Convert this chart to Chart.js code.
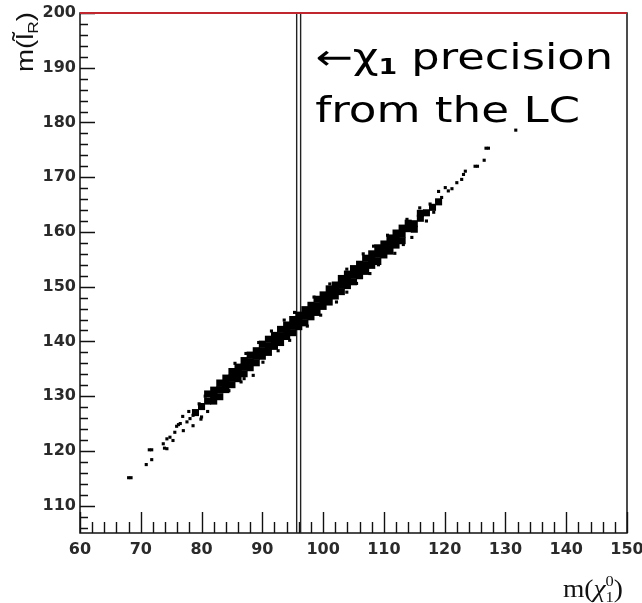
<!DOCTYPE html>
<html>
<head>
<meta charset="utf-8">
<script src="https://cdn.jsdelivr.net/npm/chart.js@4.4.1/dist/chart.umd.min.js"></script>
<style>
  html, body { margin: 0; padding: 0; background: #fff; }
  #wrap { width: 642px; height: 603px; }
</style>
</head>
<body>
<div id="wrap"><canvas id="mass_chart"></canvas></div>
<script>
// axis ranges and labelled ticks
const xRange = [60, 150];
const yRange = [105, 200];
const xTickLabels = [60, 70, 80, 90, 100, 110, 120, 130, 140, 150];
const yTickLabels = [110, 120, 130, 140, 150, 160, 170, 180, 190, 200];

// neutralino mass window from the LC (two edges) and the upper slepton limit
const lcWindow = [95.65, 96.3];
const sleptonLimit = 200;

// dense centre of the correlation band: [m(chi), m(slepton)]
const bandMid = [
  [79, 127.0], [80, 128.1], [81, 129.1], [82, 130.2], [83, 131.2], [84, 132.3], [85, 133.3],
  [86, 134.3], [87, 135.3], [88, 136.3], [89, 137.3], [90, 138.3], [91, 139.2], [92, 140.1],
  [93, 141.0], [94, 141.9], [95, 142.8], [96, 143.7], [97, 144.6], [98, 145.6], [99, 146.5],
  [100, 147.4], [101, 148.4], [102, 149.3], [103, 150.3], [104, 151.2], [105, 152.1], [106, 153.1],
  [107, 154.0], [108, 154.9], [109, 155.9], [110, 156.8], [111, 157.7], [112, 158.7], [113, 159.6],
  [114, 160.6], [115, 161.5], [116, 162.5], [117, 163.5], [118, 164.5], [119, 165.5]
];
const bandUpper = [
  [81, 130.4], [82, 131.1], [83, 132.4], [84, 133.3], [85, 134.5], [86, 135.3], [87, 136.5],
  [88, 137.5], [89, 138.3], [90, 139.5], [91, 140.4], [92, 141.1], [93, 142.2], [94, 143.0],
  [95, 144.0], [96, 144.8], [97, 145.8], [98, 146.6], [99, 147.7], [100, 148.5], [101, 149.6],
  [102, 150.3], [103, 151.5], [104, 152.3], [105, 153.3], [106, 154.1], [107, 155.2], [108, 156.0],
  [109, 157.1], [110, 157.8], [111, 158.9], [112, 159.8], [113, 160.7], [114, 161.6], [116, 163.4]
];
const bandLower = [
  [82, 129.1], [83, 129.9], [84, 131.2], [85, 132.1], [86, 133.2], [87, 134.1], [88, 135.2],
  [89, 136.1], [90, 137.3], [91, 138.0], [92, 139.1], [93, 139.8], [94, 140.9], [95, 141.6],
  [96, 142.7], [97, 143.4], [98, 144.5], [99, 145.3], [100, 146.4], [101, 147.2], [102, 148.3],
  [103, 149.1], [104, 150.2], [105, 150.9], [106, 152.0], [107, 152.8], [108, 153.9], [109, 154.6],
  [110, 155.8], [111, 156.5], [112, 157.6], [113, 158.4], [115, 160.5]
];

// single scan points: tails and ragged edges of the band
const scanPoints = [
  [68.0, 115.1], [68.4, 115.1], [70.9, 117.5], [71.8, 118.4], [71.4, 120.2], [71.8, 120.2],
  [73.7, 121.3], [73.9, 120.5], [74.3, 120.4], [74.3, 122.2], [74.8, 122.5], [75.3, 121.9],
  [75.6, 123.4], [75.9, 124.5], [76.2, 124.8], [76.5, 125.0], [76.9, 126.3], [77.0, 123.7],
  [77.6, 125.3], [77.9, 127.2], [78.1, 125.9], [78.6, 126.5], [78.6, 124.6], [79.6, 128.6],
  [79.9, 125.8], [80.0, 126.2], [80.6, 130.0], [81.0, 127.2], [81.4, 128.9], [82.2, 131.3],
  [82.4, 130.2], [84.5, 131.0], [85.2, 134.5], [85.5, 136.0], [86.5, 132.6], [87.0, 133.2],
  [87.3, 137.8], [88.5, 133.8], [89.4, 139.8], [90.1, 136.2], [91.5, 141.9], [92.6, 138.3],
  [93.6, 143.9], [94.5, 140.2], [95.3, 145.3], [97.4, 142.8], [98.5, 148.1], [99.6, 144.8],
  [101.1, 150.5], [102.2, 147.2], [103.9, 153.2], [103.9, 149.0], [105.5, 150.6], [106.6, 156.0],
  [107.7, 152.4], [108.3, 157.4], [109.1, 154.0], [110.6, 159.4], [111.8, 156.1], [113.2, 157.7],
  [113.8, 162.3], [114.6, 159.0], [115.9, 164.4], [117.0, 162.0], [117.6, 165.1], [118.2, 163.6],
  [118.7, 165.7], [119.0, 167.4], [119.5, 166.3], [120.1, 168.1], [120.6, 167.5], [121.2, 167.9],
  [122.0, 169.0], [122.8, 169.6], [123.1, 170.5], [123.4, 171.1], [125.0, 172.0], [125.4, 172.0],
  [126.5, 173.1], [126.8, 175.3], [127.2, 175.3], [131.7, 178.6]
];

const toXY = (pts) => pts.map((p) => ({ x: p[0], y: p[1] }));

const tickFont = { family: "DejaVu Sans", size: 16, weight: "bold" };

// ROOT style frame with inward ticks (minor every 2)
const framePlugin = {
  id: "frame",
  beforeDatasetsDraw(chart) {
    const { ctx, chartArea: a, scales } = chart;
    ctx.save();
    ctx.strokeStyle = "#111";
    ctx.lineWidth = 1.5;
    ctx.strokeRect(a.left, a.top, a.right - a.left, a.bottom - a.top);

    ctx.lineWidth = 1.4;
    ctx.beginPath();
    for (let v = xRange[0]; v <= xRange[1]; v += 2) {
      const px = Math.round(scales.x.getPixelForValue(v)) + 0.5;
      const len = v % 10 === 0 ? 21 : 11;
      ctx.moveTo(px, a.bottom);
      ctx.lineTo(px, a.bottom - len);
    }
    for (let v = 106; v <= yRange[1]; v += 2) {
      const py = Math.round(scales.y.getPixelForValue(v)) + 0.5;
      const len = v % 10 === 0 ? 15 : 8;
      ctx.moveTo(a.left, py);
      ctx.lineTo(a.left + len, py);
    }
    ctx.stroke();
    ctx.restore();
  },
};

const drawRuns = (ctx, runs, x, y, targetW) => {
  let w = 0;
  runs.forEach((r) => { ctx.font = r.font; if (!r.stack) w += ctx.measureText(r.text).width; });
  const sx = targetW ? targetW / w : 1;
  ctx.save();
  ctx.translate(x, y);
  ctx.scale(sx, 1);
  let cx = 0;
  runs.forEach((r) => {
    ctx.font = r.font;
    ctx.fillText(r.text, cx, r.dy || 0);
    if (!r.stack) cx += ctx.measureText(r.text).width;
  });
  ctx.restore();
};

const textPlugin = {
  id: "labels",
  afterDraw(chart) {
    const { ctx, chartArea: a, scales } = chart;
    ctx.save();
    ctx.fillStyle = "#000";
    ctx.textBaseline = "alphabetic";

    // note next to the LC window
    const nx = scales.x.getPixelForValue(98.7);
    const big = "35px DejaVu Sans";
    drawRuns(ctx, [
      { text: "\u2190", font: big },
      { text: "\u03c7", font: big },
      { text: "1", font: "bold 21px DejaVu Sans", dy: 5 },
      { text: " precision", font: big },
    ], nx, scales.y.getPixelForValue(189.7), scales.x.getPixelForValue(147.7) - nx);
    drawRuns(ctx, [{ text: "from the LC", font: big }],
      nx, scales.y.getPixelForValue(180.0), scales.x.getPixelForValue(142.3) - nx);

    // y title, rotated
    ctx.fillStyle = "#111";
    ctx.save();
    ctx.translate(33, 72);
    ctx.rotate(-Math.PI / 2);
    drawRuns(ctx, [
      { text: "m(", font: "24px Liberation Sans" },
      { text: "l\u0303", font: "24px Liberation Sans" },
      { text: "R", font: "15px Liberation Sans", dy: 5 },
      { text: ")", font: "24px Liberation Sans" },
    ], 0, 0, 60);
    ctx.restore();

    // x title
    drawRuns(ctx, [
      { text: "m(", font: "25px Liberation Serif" },
      { text: "\u03c7", font: "italic 25px Liberation Serif" },
      { text: "0", font: "15px Liberation Serif", dy: -11, stack: true },
      { text: "1", font: "15px Liberation Serif", dy: 5 },
      { text: ")", font: "25px Liberation Serif" },
    ], 563, 597, 60);
    ctx.restore();
  },
};

const vLine = (x) => ({
  type: "line",
  data: [{ x: x, y: yRange[0] }, { x: x, y: yRange[1] }],
  borderColor: "#222",
  borderWidth: 1.4,
  pointRadius: 0,
  order: 2,
});

new Chart(document.getElementById("mass_chart"), {
  type: "scatter",
  data: {
    datasets: [
      {
        data: toXY(bandMid.concat(bandUpper, bandLower)),
        pointStyle: "rect",
        pointRadius: 5,
        backgroundColor: "#000",
        borderWidth: 0,
        order: 0,
      },
      {
        data: toXY(scanPoints),
        pointStyle: "rect",
        pointRadius: 2.2,
        backgroundColor: "#000",
        borderWidth: 0,
        order: 0,
      },
      vLine(lcWindow[0]),
      vLine(lcWindow[1]),
      {
        type: "line",
        data: [{ x: xRange[0], y: sleptonLimit }, { x: xRange[1], y: sleptonLimit }],
        borderColor: "#c0262d",
        borderWidth: 2,
        pointRadius: 0,
        clip: false,
        order: -1,
      },
    ],
  },
  options: {
    responsive: true,
    maintainAspectRatio: false,
    animation: false,
    events: [],
    layout: { padding: { top: 13, right: 15, left: 0, bottom: 0 } },
    plugins: { legend: { display: false }, tooltip: { enabled: false } },
    scales: {
      x: {
        type: "linear",
        min: xRange[0],
        max: xRange[1],
        afterBuildTicks: (s) => { s.ticks = xTickLabels.map((v) => ({ value: v })); },
        afterFit: (s) => { s.height = 70; s.paddingLeft = 0; s.paddingRight = 0; },
        grid: { drawOnChartArea: false, drawTicks: false },
        border: { display: false },
        ticks: { font: tickFont, color: "#2a2a2a", padding: 7, maxRotation: 0, autoSkip: false },
      },
      y: {
        type: "linear",
        min: yRange[0],
        max: yRange[1],
        afterBuildTicks: (s) => { s.ticks = yTickLabels.map((v) => ({ value: v })); },
        afterFit: (s) => { s.width = 80; s.paddingTop = 0; s.paddingBottom = 0; },
        grid: { drawOnChartArea: false, drawTicks: false },
        border: { display: false },
        ticks: { font: tickFont, color: "#2a2a2a", padding: 4, autoSkip: false },
      },
    },
  },
  plugins: [framePlugin, textPlugin],
});
</script>
</body>
</html>
